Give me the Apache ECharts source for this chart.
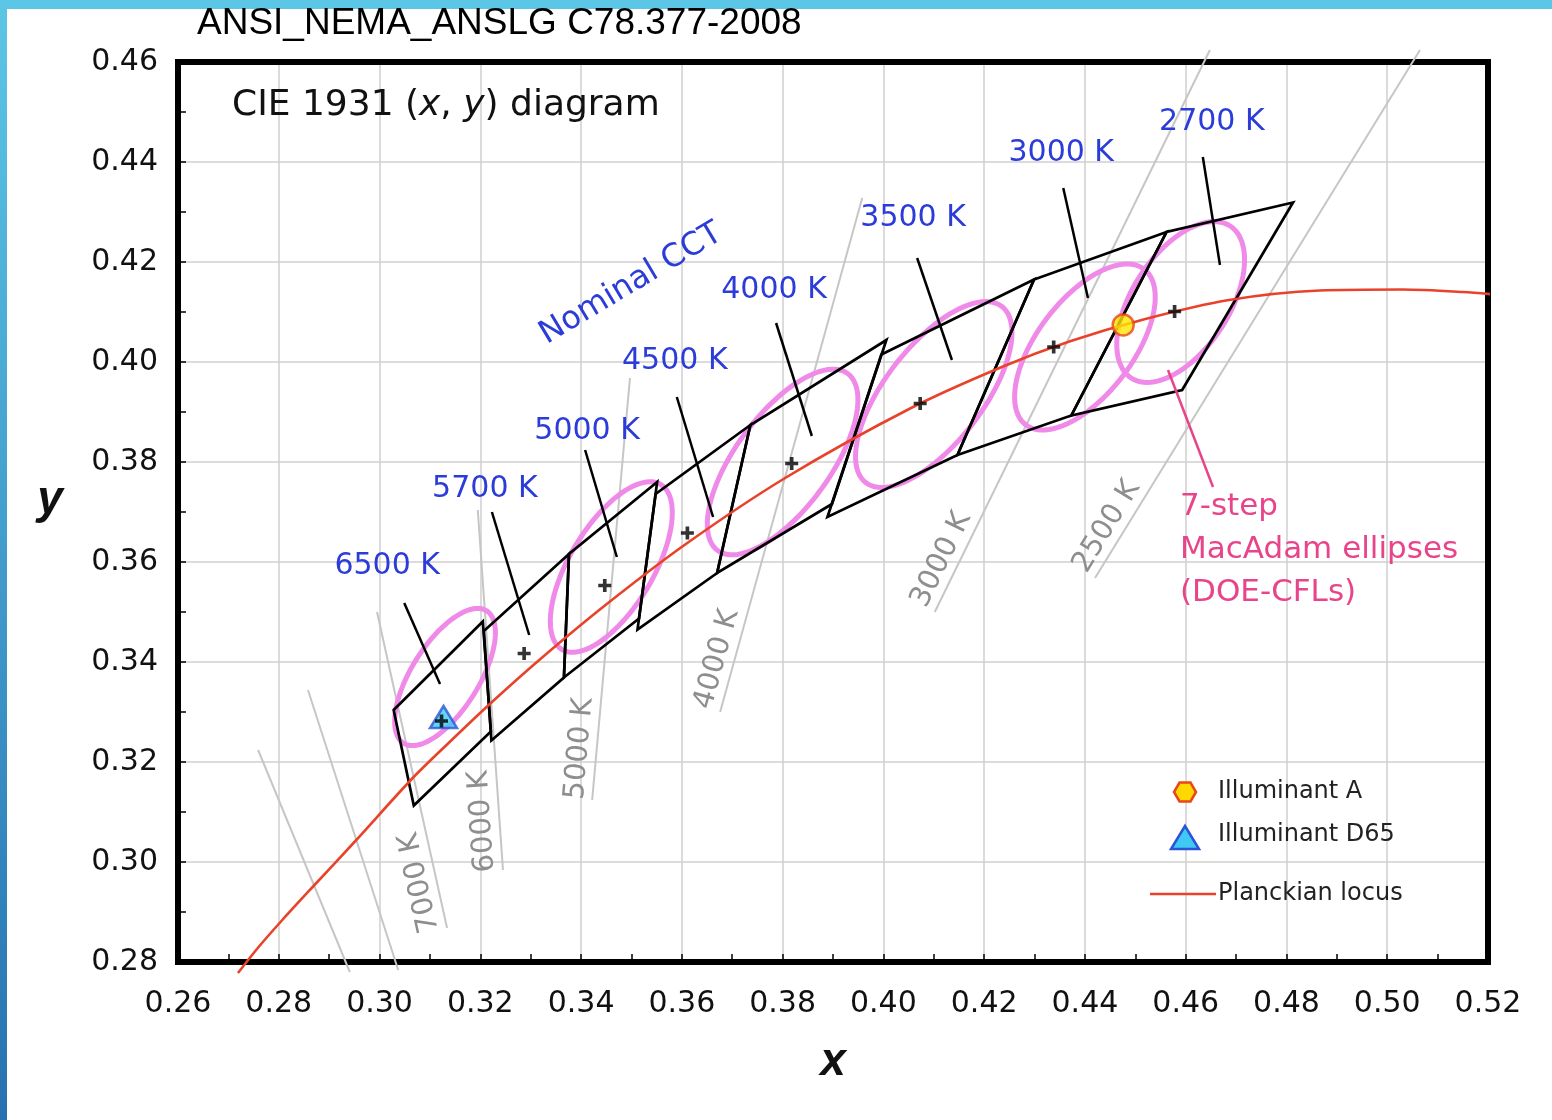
<!DOCTYPE html>
<html>
<head>
<meta charset="utf-8">
<title>CIE 1931 (x, y) diagram – ANSI C78.377 quadrangles</title>
<script src="https://cdn.jsdelivr.net/npm/echarts@6/dist/echarts.min.js"></script>
<style>
  html, body { margin: 0; padding: 0; background: #fff; }
  #chart { width: 1552px; height: 1120px; }
</style>
</head>
<body>
<div id="chart"></div>
<script>
// ---- Nominal CCT quadrangles (ANSI C78.377-2008) ----
const cctNames = ['6500 K', '5700 K', '5000 K', '4500 K', '4000 K', '3500 K', '3000 K', '2700 K'];
const centerX = [0.3123, 0.3287, 0.3447, 0.3611, 0.3818, 0.4073, 0.4338, 0.4578];
const centerY = [0.3282, 0.3417, 0.3553, 0.3658, 0.3797, 0.3917, 0.4030, 0.4101];
const quadCorners = [
  [[0.3205, 0.3481], [0.3028, 0.3304], [0.3068, 0.3113], [0.3221, 0.3261]],
  [[0.3376, 0.3616], [0.3207, 0.3462], [0.3222, 0.3243], [0.3366, 0.3369]],
  [[0.3551, 0.3760], [0.3376, 0.3616], [0.3366, 0.3369], [0.3515, 0.3487]],
  [[0.3736, 0.3874], [0.3548, 0.3736], [0.3512, 0.3465], [0.3670, 0.3578]],
  [[0.4006, 0.4044], [0.3736, 0.3874], [0.3670, 0.3578], [0.3898, 0.3716]],
  [[0.4299, 0.4165], [0.3996, 0.4015], [0.3889, 0.3690], [0.4147, 0.3814]],
  [[0.4562, 0.4260], [0.4299, 0.4165], [0.4147, 0.3814], [0.4373, 0.3893]],
  [[0.4813, 0.4319], [0.4562, 0.4260], [0.4373, 0.3893], [0.4593, 0.3944]]
];
// leader lines from each nominal CCT label into its quadrangle
const cctPointerTop = [[0.3049, 0.3518], [0.3223, 0.3700], [0.3408, 0.3824], [0.3590, 0.3930],
                       [0.3787, 0.4078], [0.4067, 0.4208], [0.4357, 0.4348], [0.4634, 0.4410]];
const cctPointerEnd = [[0.3120, 0.3356], [0.3297, 0.3454], [0.3471, 0.3610], [0.3662, 0.3690],
                       [0.3858, 0.3852], [0.4136, 0.4004], [0.4406, 0.4128], [0.4668, 0.4194]];

// ---- 7-step MacAdam ellipses (DOE-CFLs): centre, semi-axes, tilt in degrees ----
const ellipseX = [0.313, 0.346, 0.380, 0.410, 0.440, 0.459];
const ellipseY = [0.337, 0.359, 0.380, 0.3935, 0.403, 0.412];
const ellipseA = [0.0156, 0.0192, 0.0219, 0.0222, 0.0195, 0.0181];
const ellipseB = [0.0067, 0.0083, 0.0094, 0.0097, 0.0095, 0.0096];
const ellipseTilt = [58.2, 59.4, 54.0, 52.6, 53.1, 57.3];

// ---- Planckian locus ----
const locusX = [0.2719, 0.2760, 0.2807, 0.2869, 0.2952, 0.3064, 0.3135, 0.3221, 0.3325, 0.3451, 0.3608,
                0.3805, 0.4053, 0.4235, 0.4369, 0.4520, 0.4686, 0.4866, 0.5030, 0.5150, 0.5224];
const locusY = [0.2778, 0.2830, 0.2884, 0.2952, 0.3042, 0.3166, 0.3236, 0.3318, 0.3411, 0.3516, 0.3636,
                0.3768, 0.3907, 0.3990, 0.4041, 0.4086, 0.4124, 0.4143, 0.4145, 0.4140, 0.4134];

// ---- Isotemperature lines (upper end, lower end) ----
const isoNames = ['', '', '7000 K', '6000 K', '5000 K', '4000 K', '3000 K', '2500 K'];
const isoStart = [[0.2759, 0.3224], [0.2858, 0.3344], [0.2995, 0.3500], [0.3195, 0.3704],
                  [0.3497, 0.3968], [0.3958, 0.4328], [0.4648, 0.4624], [0.5065, 0.4624]];
const isoEnd = [[0.2941, 0.2780], [0.3037, 0.2784], [0.3134, 0.2868], [0.3245, 0.2984],
                [0.3422, 0.3124], [0.3676, 0.3300], [0.4102, 0.3500], [0.4420, 0.3568]];

// ---- Reference illuminants ----
const illuminantA = [0.4476, 0.4074];
const illuminantD65 = [0.3127, 0.3290];

// ---- Axes ----
const xTicks = { min: 0.26, max: 0.52, step: 0.02 };
const yTicks = { min: 0.28, max: 0.46, step: 0.02 };

const BLUE = '#2b3cd8';
const PINK = '#e8448a';
const ELLIPSE = '#f08ae8';
const FONT = 'DejaVu Sans';

// pixel placement of each nominal CCT label relative to the top of its leader line
const cctLabelShift = [[-17, -37], [-7, -23], [2, -19], [-2, -36], [-2, -33], [-4, -40], [-2, -35], [9, -35]];

const chart = echarts.init(document.getElementById('chart'), null, { renderer: 'canvas' });

const frameAxis = (pos, range) => ({
  type: 'value', position: pos, min: range.min, max: range.max,
  axisLine: { show: true, onZero: false, lineStyle: { color: '#000', width: 6, cap: 'square' } },
  axisTick: { show: false }, axisLabel: { show: false }, splitLine: { show: false }
});

const option = {
  backgroundColor: '#ffffff',
  animation: false,
  grid: { left: 178, right: 64, top: 62, bottom: 158, containLabel: false },
  xAxis: [{
    type: 'value', position: 'bottom',
    min: xTicks.min, max: xTicks.max, interval: xTicks.step,
    axisLine: { show: true, onZero: false, lineStyle: { color: '#000', width: 6, cap: 'square' } },
    axisTick: { show: true, inside: true, length: 8, lineStyle: { color: '#000', width: 1.5 } },
    minorTick: { show: true, splitNumber: 2, length: 8, lineStyle: { color: '#000', width: 1.5 } },
    splitLine: { show: true, lineStyle: { color: '#cfcfcf', width: 1.5 } },
    axisLabel: { margin: 27, fontSize: 30, fontFamily: FONT, color: '#111',
                 formatter: v => v.toFixed(2) }
  }, frameAxis('top', xTicks)],
  yAxis: [{
    type: 'value', position: 'left',
    min: yTicks.min, max: yTicks.max, interval: yTicks.step,
    axisLine: { show: true, onZero: false, lineStyle: { color: '#000', width: 6, cap: 'square' } },
    axisTick: { show: true, inside: true, length: 8, lineStyle: { color: '#000', width: 1.5 } },
    minorTick: { show: true, splitNumber: 2, length: 8, lineStyle: { color: '#000', width: 1.5 } },
    splitLine: { show: true, lineStyle: { color: '#cfcfcf', width: 1.5 } },
    axisLabel: { margin: 20, fontSize: 30, fontFamily: FONT, color: '#111',
                 formatter: v => v.toFixed(2) }
  }, frameAxis('right', yTicks)],
  series: [
    // isotemperature lines with their CCT labels
    {
      type: 'custom', name: 'isotemperature', clip: false, silent: true,
      data: isoStart.map((s, i) => [s[0], s[1], isoEnd[i][0], isoEnd[i][1]]),
      encode: { x: [0, 2], y: [1, 3] },
      renderItem: (params, api) => {
        const p1 = api.coord([api.value(0), api.value(1)]);
        const p2 = api.coord([api.value(2), api.value(3)]);
        const children = [{
          type: 'line',
          shape: { x1: p1[0], y1: p1[1], x2: p2[0], y2: p2[1] },
          style: { stroke: '#c6c6c6', lineWidth: 2 }
        }];
        const name = isoNames[params.dataIndex];
        if (name) {
          const dx = p1[0] - p2[0], dy = p1[1] - p2[1];
          const len = Math.hypot(dx, dy);
          const ux = dx / len, uy = dy / len;       // along the line, upwards
          const nx = uy, ny = -ux;                  // towards the top of the glyphs
          children.push({
            type: 'text',
            x: p2[0] + ux * 50 + nx * 17,
            y: p2[1] + uy * 50 + ny * 17,
            rotation: Math.atan2(-uy, ux),
            style: { text: name, fill: '#8e8e8e', fontSize: 29, fontFamily: FONT,
                     align: 'center', verticalAlign: 'middle' }
          });
        }
        return { type: 'group', children };
      }
    },
    // MacAdam ellipses
    {
      type: 'custom', name: 'MacAdam ellipses', clip: false, silent: true,
      data: ellipseX.map((x, i) => [x, ellipseY[i], ellipseA[i], ellipseB[i], ellipseTilt[i]]),
      encode: { x: 0, y: 1 },
      renderItem: (params, api) => {
        const cx = api.value(0), cy = api.value(1), a = api.value(2), b = api.value(3);
        const th = api.value(4) * Math.PI / 180;
        const pts = [];
        for (let k = 0; k < 96; k++) {
          const t = k / 96 * Math.PI * 2;
          const ex = a * Math.cos(t), ey = b * Math.sin(t);
          pts.push(api.coord([cx + ex * Math.cos(th) - ey * Math.sin(th),
                              cy + ex * Math.sin(th) + ey * Math.cos(th)]));
        }
        return { type: 'polygon', shape: { points: pts },
                 style: { fill: 'none', stroke: ELLIPSE, lineWidth: 5 } };
      }
    },
    // quadrangles
    {
      type: 'custom', name: 'quadrangles', clip: false, silent: true,
      data: quadCorners.map(q => q.flat()),
      encode: { x: [0, 2, 4, 6], y: [1, 3, 5, 7] },
      renderItem: (params, api) => {
        const pts = [0, 1, 2, 3].map(k => api.coord([api.value(2 * k), api.value(2 * k + 1)]));
        return { type: 'polygon', shape: { points: pts },
                 style: { fill: 'none', stroke: '#000', lineWidth: 2.7, lineJoin: 'miter' } };
      }
    },
    // nominal CCT leaders and labels
    {
      type: 'custom', name: 'nominal CCT', clip: false, silent: true,
      data: cctPointerTop.map((p, i) => [p[0], p[1], cctPointerEnd[i][0], cctPointerEnd[i][1]]),
      encode: { x: [0, 2], y: [1, 3] },
      renderItem: (params, api) => {
        const p1 = api.coord([api.value(0), api.value(1)]);
        const p2 = api.coord([api.value(2), api.value(3)]);
        const s = cctLabelShift[params.dataIndex];
        return {
          type: 'group',
          children: [{
            type: 'line',
            shape: { x1: p1[0], y1: p1[1], x2: p2[0], y2: p2[1] },
            style: { stroke: '#000', lineWidth: 2.5 }
          }, {
            type: 'text', x: p1[0] + s[0], y: p1[1] + s[1],
            style: { text: cctNames[params.dataIndex], fill: BLUE, fontSize: 30, fontFamily: FONT,
                     align: 'center', verticalAlign: 'middle' }
          }]
        };
      }
    },
    // Planckian locus
    {
      type: 'line', name: 'Planckian locus', clip: false, silent: true,
      data: locusX.map((x, i) => [x, locusY[i]]),
      showSymbol: false, smooth: 0.3,
      lineStyle: { color: '#e8432a', width: 2.6 }, z: 3
    },
    // Illuminant D65
    {
      type: 'scatter', name: 'Illuminant D65', silent: true,
      data: [illuminantD65], symbol: 'triangle', symbolSize: [27, 22],
      itemStyle: { color: '#3fc9f3', borderColor: '#2a56d6', borderWidth: 2.5 }, z: 4
    },
    // Illuminant A
    {
      type: 'scatter', name: 'Illuminant A', silent: true,
      data: [illuminantA], symbol: 'circle', symbolSize: 21,
      itemStyle: { color: '#ffe600', borderColor: '#e8461c', borderWidth: 2.5 }, z: 4
    },
    // quadrangle centre points
    {
      type: 'scatter', name: 'centres', silent: true,
      data: centerX.map((x, i) => [x, centerY[i]]),
      symbol: 'path://M3.6,0H6.4V3.6H10V6.4H6.4V10H3.6V6.4H0V3.6H3.6Z', symbolSize: 13,
      itemStyle: { color: '#000' }, z: 5
    }
  ],
  graphic: [
    // page edge bands
    { type: 'rect', silent: true, z: 0, shape: { x: 0, y: 0, width: 1552, height: 9 },
      style: { fill: '#5cc6e6' } },
    { type: 'rect', silent: true, z: 0, shape: { x: 0, y: 0, width: 7, height: 1120 },
      style: { fill: new echarts.graphic.LinearGradient(0, 0, 0, 1, [
        { offset: 0, color: '#5cc6e6' }, { offset: 1, color: '#2672b0' }]) } },
    // headings
    { type: 'text', silent: true, x: 197, y: 24,
      style: { text: 'ANSI_NEMA_ANSLG C78.377-2008', fill: '#000', fontSize: 37,
               fontFamily: 'Liberation Sans', verticalAlign: 'middle' } },
    { type: 'text', silent: true, x: 232, y: 106, z: 10,
      style: { text: 'CIE 1931 ({i|x}, {i|y}) diagram', fill: '#111', fontSize: 36, fontFamily: FONT,
               verticalAlign: 'middle',
               rich: { i: { fontStyle: 'italic', fontSize: 36, fontFamily: FONT, fill: '#111' } } } },
    { type: 'text', silent: true, x: 631, y: 284, rotation: 31 * Math.PI / 180, z: 10,
      style: { text: 'Nominal CCT', fill: BLUE, fontSize: 32, fontFamily: FONT,
               align: 'center', verticalAlign: 'middle' } },
    // ellipse annotation
    { type: 'line', silent: true, z: 10, shape: { x1: 1168, y1: 370, x2: 1213, y2: 487 },
      style: { stroke: PINK, lineWidth: 2.5 } },
    { type: 'text', silent: true, x: 1180, y: 507, z: 10,
      style: { text: '7-step', fill: PINK, fontSize: 31, fontFamily: FONT, verticalAlign: 'middle' } },
    { type: 'text', silent: true, x: 1180, y: 550, z: 10,
      style: { text: 'MacAdam ellipses', fill: PINK, fontSize: 31, fontFamily: FONT, verticalAlign: 'middle' } },
    { type: 'text', silent: true, x: 1180, y: 593, z: 10,
      style: { text: '(DOE-CFLs)', fill: PINK, fontSize: 31, fontFamily: FONT, verticalAlign: 'middle' } },
    // axis names
    { type: 'text', silent: true, x: 833, y: 1062,
      style: { text: 'x', fill: '#111', fontSize: 46, fontWeight: 'bold', fontStyle: 'italic',
               fontFamily: 'Liberation Sans', align: 'center', verticalAlign: 'middle' } },
    { type: 'text', silent: true, x: 50, y: 500,
      style: { text: 'y', fill: '#111', fontSize: 46, fontWeight: 'bold', fontStyle: 'italic',
               fontFamily: 'Liberation Sans', align: 'center', verticalAlign: 'middle' } },
    // key
    { type: 'polygon', silent: true, z: 10,
      shape: { points: [[1196, 792], [1190.5, 801.5], [1179.5, 801.5], [1174, 792], [1179.5, 782.5], [1190.5, 782.5]] },
      style: { fill: '#ffd800', stroke: '#e8461c', lineWidth: 2.5 } },
    { type: 'text', silent: true, x: 1218, y: 792, z: 10,
      style: { text: 'Illuminant A', fill: '#222', fontSize: 24, fontFamily: FONT, verticalAlign: 'middle' } },
    { type: 'polygon', silent: true, z: 10,
      shape: { points: [[1185, 826], [1171, 849], [1199, 849]] },
      style: { fill: '#3fc9f3', stroke: '#2a56d6', lineWidth: 2.5 } },
    { type: 'text', silent: true, x: 1218, y: 835, z: 10,
      style: { text: 'Illuminant D65', fill: '#222', fontSize: 24, fontFamily: FONT, verticalAlign: 'middle' } },
    { type: 'line', silent: true, z: 10, shape: { x1: 1150, y1: 894, x2: 1216, y2: 894 },
      style: { stroke: '#e8432a', lineWidth: 2.5 } },
    { type: 'text', silent: true, x: 1218, y: 894, z: 10,
      style: { text: 'Planckian locus', fill: '#222', fontSize: 24, fontFamily: FONT, verticalAlign: 'middle' } }
  ]
};

chart.setOption(option);
</script>
</body>
</html>
